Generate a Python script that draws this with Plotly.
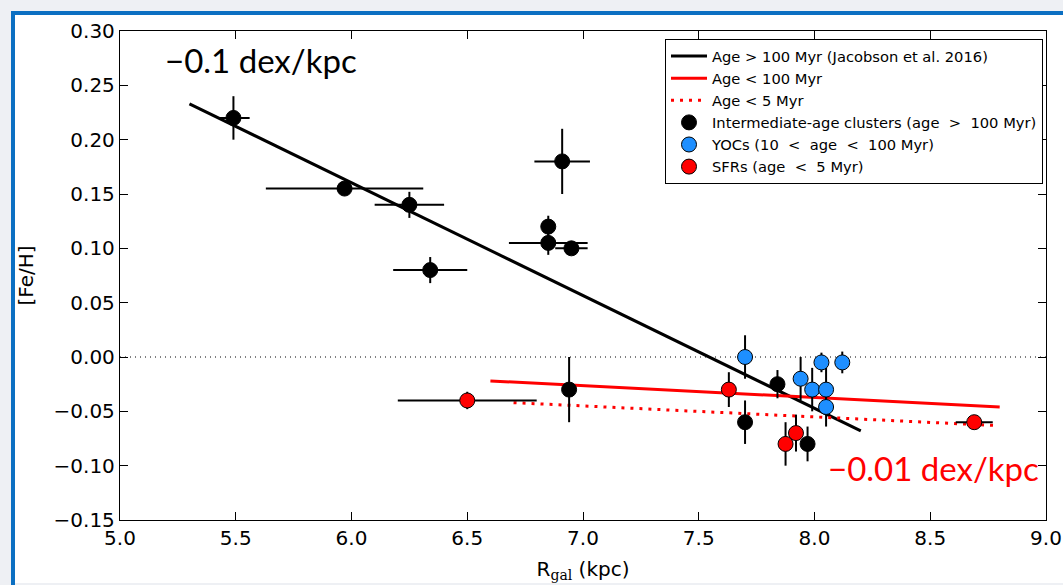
import plotly.graph_objects as go

# ---- data ----------------------------------------------------------------
# Intermediate-age clusters (age > 100 Myr)
old_r = [5.49, 5.97, 6.25, 6.34, 6.91, 6.85, 6.85, 6.95, 6.94, 7.70, 7.84, 7.97]
old_feh = [0.22, 0.155, 0.14, 0.08, 0.18, 0.12, 0.105, 0.10, -0.03, -0.06, -0.025, -0.08]
old_rerr = [0.07, 0.34, 0.15, 0.16, 0.12, 0.0, 0.17, 0.07, 0.0, 0.0, 0.0, 0.0]
old_feherr = [0.02, 0.0, 0.012, 0.012, 0.03, 0.01, 0.011, 0.0, 0.03, 0.02, 0.013, 0.016]

# Young open clusters (10 < age < 100 Myr)
yoc_r = [7.70, 7.94, 7.99, 8.03, 8.05, 8.05, 8.12]
yoc_feh = [0.0, -0.02, -0.03, -0.005, -0.03, -0.046, -0.005]
yoc_feherr = [0.02, 0.02, 0.02, 0.009, 0.02, 0.018, 0.01]

# Star-forming regions (age < 5 Myr)
sfr_r = [6.50, 7.63, 7.875, 7.92, 8.69]
sfr_feh = [-0.04, -0.03, -0.08, -0.07, -0.06]
sfr_rerr = [0.30, 0.0, 0.0, 0.0, 0.08]
sfr_feherr = [0.008, 0.016, 0.02, 0.017, 0.0]

# Gradient fits (end points)
fit_old_r = [5.3, 8.2]
fit_old_feh = [0.233, -0.068]
fit_young_r = [6.6, 8.8]
fit_young_feh = [-0.022, -0.046]
fit_sfr_r = [6.7, 8.78]
fit_sfr_feh = [-0.042, -0.063]

x_ticks = [5.0, 5.5, 6.0, 6.5, 7.0, 7.5, 8.0, 8.5, 9.0]
y_ticks = [-0.15, -0.10, -0.05, 0.00, 0.05, 0.10, 0.15, 0.20, 0.25, 0.30]

# ---- layout geometry (pixels) ----------------------------------------------
W, H = 1063, 585
L, R, T, B = 120, 17, 31, 65
PW, PH = W - L - R, H - T - B


def px(xpix):
    return (xpix - L) / PW


def py(ypix):
    return (H - B - ypix) / PH


FONT = "DejaVu Sans"
BLUE = "#1e8fff"
RED = "#ff0000"

fig = go.Figure()

# fit lines
fig.add_trace(go.Scatter(x=fit_old_r, y=fit_old_feh, mode="lines",
                         line=dict(color="black", width=3),
                         name="Age &gt; 100 Myr (Jacobson et al. 2016)", legendrank=1))
fig.add_trace(go.Scatter(x=fit_young_r, y=fit_young_feh, mode="lines",
                         line=dict(color=RED, width=3),
                         name="Age &lt; 100 Myr", legendrank=2))
fig.add_trace(go.Scatter(x=fit_sfr_r, y=fit_sfr_feh, mode="lines",
                         line=dict(color=RED, width=3, dash="3px,6px"),
                         name="Age &lt; 5 Myr", legendrank=3))

err_style = dict(color="black", thickness=2, width=0)

fig.add_trace(go.Scatter(
    x=old_r, y=old_feh, mode="markers",
    error_x=dict(type="data", array=old_rerr, **err_style),
    error_y=dict(type="data", array=old_feherr, **err_style),
    marker=dict(color="black", size=15, line=dict(color="black", width=1)),
    name="Intermediate-age clusters (age  &gt;  100 Myr)", legendrank=4))

fig.add_trace(go.Scatter(
    x=yoc_r, y=yoc_feh, mode="markers",
    error_y=dict(type="data", array=yoc_feherr, **err_style),
    marker=dict(color=BLUE, size=15, line=dict(color="black", width=1)),
    name="YOCs (10  &lt;  age  &lt;  100 Myr)", legendrank=5))

fig.add_trace(go.Scatter(
    x=sfr_r, y=sfr_feh, mode="markers",
    error_x=dict(type="data", array=sfr_rerr, **err_style),
    error_y=dict(type="data", array=sfr_feherr, **err_style),
    marker=dict(color=RED, size=15, line=dict(color="black", width=1)),
    name="SFRs (age  &lt;  5 Myr)", legendrank=6))

shapes = [
    # white slide area and its blue frame
    dict(type="rect", xref="paper", yref="paper", layer="below",
         x0=px(15), x1=px(W + 5), y0=py(583), y1=py(15),
         fillcolor="white", line=dict(width=0)),
    dict(type="rect", xref="paper", yref="paper", layer="below",
         x0=px(11), x1=px(W + 5), y0=py(15), y1=py(11),
         fillcolor="#0b6fc2", line=dict(width=0)),
    dict(type="rect", xref="paper", yref="paper", layer="below",
         x0=px(11), x1=px(15), y0=py(H + 5), y1=py(11),
         fillcolor="#0b6fc2", line=dict(width=0)),
    # zero-metallicity reference line
    dict(type="line", xref="paper", yref="y", layer="below",
         x0=0, x1=1, y0=0, y1=0,
         line=dict(color="black", width=1, dash="1px,4px")),
]

axis_common = dict(
    showgrid=False, zeroline=False, showline=True, linecolor="black", linewidth=1.3,
    mirror="ticks", ticks="inside", ticklen=8, tickwidth=1, tickcolor="black",
    tickfont=dict(family=FONT, size=20, color="black"),
)

fig.update_layout(
    width=W, height=H,
    margin=dict(l=L, r=R, t=T, b=B, autoexpand=False),
    paper_bgcolor="#eef0f4",
    plot_bgcolor="rgba(0,0,0,0)",
    font=dict(family=FONT, color="black"),
    shapes=shapes,
    xaxis=dict(range=[5.0, 9.0], tickvals=x_ticks,
               ticktext=[f"{v:.1f}" for v in x_ticks],
               title=dict(text="R<sub><span style=\"font-family:'DejaVu Serif'\">gal</span></sub> (kpc)",
                          font=dict(family=FONT, size=20), standoff=12),
               **axis_common),
    yaxis=dict(range=[-0.15, 0.30], tickvals=y_ticks,
               ticktext=[f"{v:.2f}".replace("-", "\u2212") for v in y_ticks],
               title=dict(text="[Fe/H]", font=dict(family=FONT, size=20), standoff=14),
               **axis_common),
    legend=dict(x=px(665), y=py(39), xanchor="left", yanchor="top",
                bgcolor="white", bordercolor="black", borderwidth=1,
                font=dict(family=FONT, size=14.7, color="black"),
                tracegroupgap=0, itemwidth=36),
    annotations=[
        dict(text="\u22120.1 dex/kpc", xref="paper", yref="paper",
             x=px(163), y=py(60), xanchor="left", yanchor="middle", showarrow=False,
             font=dict(family="Lato", size=33, color="black")),
        dict(text="\u22120.01 dex/kpc", xref="paper", yref="paper",
             x=px(1041), y=py(468), xanchor="right", yanchor="middle", showarrow=False,
             font=dict(family="Lato", size=33, color=RED)),
    ],
)

fig.write_html("out.html")
